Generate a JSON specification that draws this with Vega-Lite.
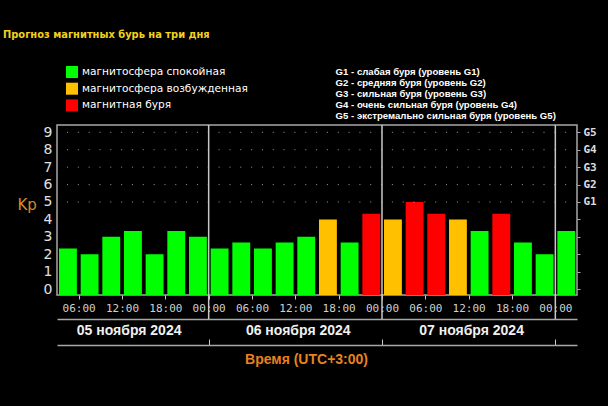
{
  "$schema": "https://vega.github.io/schema/vega-lite/v6.json",
  "width": 520,
  "height": 170,
  "autosize": {"type": "none"},
  "padding": {"left": 57, "top": 125, "right": 31, "bottom": 111},
  "background": "#000000",
  "config": {
    "view": {"stroke": "#a8a8a8", "strokeWidth": 1.5},
    "axis": {"grid": false}
  },
  "title": {
    "text": "Прогноз магнитных бурь на три дня",
    "anchor": "start",
    "frame": "group",
    "dx": -54,
    "dy": -20,
    "font": "DejaVu Sans Condensed",
    "fontSize": 11,
    "fontWeight": "bold",
    "color": "#f2d21b",
    "baseline": "middle",
    "offset": 0
  },
  "resolve": {"axis": {"x": "independent", "y": "independent"}},
  "layer": [
    {
      "data": {
        "values": [
          {"start": "2024-11-05T03:00:00Z", "end": "2024-11-05T06:00:00Z", "kp": 2.33, "state": "магнитосфера спокойная"},
          {"start": "2024-11-05T06:00:00Z", "end": "2024-11-05T09:00:00Z", "kp": 2.0, "state": "магнитосфера спокойная"},
          {"start": "2024-11-05T09:00:00Z", "end": "2024-11-05T12:00:00Z", "kp": 3.0, "state": "магнитосфера спокойная"},
          {"start": "2024-11-05T12:00:00Z", "end": "2024-11-05T15:00:00Z", "kp": 3.33, "state": "магнитосфера спокойная"},
          {"start": "2024-11-05T15:00:00Z", "end": "2024-11-05T18:00:00Z", "kp": 2.0, "state": "магнитосфера спокойная"},
          {"start": "2024-11-05T18:00:00Z", "end": "2024-11-05T21:00:00Z", "kp": 3.33, "state": "магнитосфера спокойная"},
          {"start": "2024-11-05T21:00:00Z", "end": "2024-11-06T00:00:00Z", "kp": 3.0, "state": "магнитосфера спокойная"},
          {"start": "2024-11-06T00:00:00Z", "end": "2024-11-06T03:00:00Z", "kp": 2.33, "state": "магнитосфера спокойная"},
          {"start": "2024-11-06T03:00:00Z", "end": "2024-11-06T06:00:00Z", "kp": 2.67, "state": "магнитосфера спокойная"},
          {"start": "2024-11-06T06:00:00Z", "end": "2024-11-06T09:00:00Z", "kp": 2.33, "state": "магнитосфера спокойная"},
          {"start": "2024-11-06T09:00:00Z", "end": "2024-11-06T12:00:00Z", "kp": 2.67, "state": "магнитосфера спокойная"},
          {"start": "2024-11-06T12:00:00Z", "end": "2024-11-06T15:00:00Z", "kp": 3.0, "state": "магнитосфера спокойная"},
          {"start": "2024-11-06T15:00:00Z", "end": "2024-11-06T18:00:00Z", "kp": 4.0, "state": "магнитосфера возбужденная"},
          {"start": "2024-11-06T18:00:00Z", "end": "2024-11-06T21:00:00Z", "kp": 2.67, "state": "магнитосфера спокойная"},
          {"start": "2024-11-06T21:00:00Z", "end": "2024-11-07T00:00:00Z", "kp": 4.33, "state": "магнитная буря"},
          {"start": "2024-11-07T00:00:00Z", "end": "2024-11-07T03:00:00Z", "kp": 4.0, "state": "магнитосфера возбужденная"},
          {"start": "2024-11-07T03:00:00Z", "end": "2024-11-07T06:00:00Z", "kp": 5.0, "state": "магнитная буря"},
          {"start": "2024-11-07T06:00:00Z", "end": "2024-11-07T09:00:00Z", "kp": 4.33, "state": "магнитная буря"},
          {"start": "2024-11-07T09:00:00Z", "end": "2024-11-07T12:00:00Z", "kp": 4.0, "state": "магнитосфера возбужденная"},
          {"start": "2024-11-07T12:00:00Z", "end": "2024-11-07T15:00:00Z", "kp": 3.33, "state": "магнитосфера спокойная"},
          {"start": "2024-11-07T15:00:00Z", "end": "2024-11-07T18:00:00Z", "kp": 4.33, "state": "магнитная буря"},
          {"start": "2024-11-07T18:00:00Z", "end": "2024-11-07T21:00:00Z", "kp": 2.67, "state": "магнитосфера спокойная"},
          {"start": "2024-11-07T21:00:00Z", "end": "2024-11-08T00:00:00Z", "kp": 2.0, "state": "магнитосфера спокойная"},
          {"start": "2024-11-08T00:00:00Z", "end": "2024-11-08T03:00:00Z", "kp": 3.33, "state": "магнитосфера спокойная"}
        ]
      },
      "mark": {"type": "bar", "xOffset": 2, "x2Offset": -1.8},
      "encoding": {
        "x": {
          "field": "start", "type": "temporal",
          "scale": {"type": "utc", "domain": [{"year": 2024, "month": 11, "date": 5, "hours": 3, "utc": true}, {"year": 2024, "month": 11, "date": 8, "hours": 3, "utc": true}]},
          "axis": {
            "orient": "bottom", "offset": 0, "title": null, "domain": false, "labelFlush": false, "labelOverlap": false,
            "values": [
              {"year": 2024, "month": 11, "date": 5, "hours": 6, "utc": true},
              {"year": 2024, "month": 11, "date": 5, "hours": 12, "utc": true},
              {"year": 2024, "month": 11, "date": 5, "hours": 18, "utc": true},
              {"year": 2024, "month": 11, "date": 6, "hours": 0, "utc": true},
              {"year": 2024, "month": 11, "date": 6, "hours": 6, "utc": true},
              {"year": 2024, "month": 11, "date": 6, "hours": 12, "utc": true},
              {"year": 2024, "month": 11, "date": 6, "hours": 18, "utc": true},
              {"year": 2024, "month": 11, "date": 7, "hours": 0, "utc": true},
              {"year": 2024, "month": 11, "date": 7, "hours": 6, "utc": true},
              {"year": 2024, "month": 11, "date": 7, "hours": 12, "utc": true},
              {"year": 2024, "month": 11, "date": 7, "hours": 18, "utc": true},
              {"year": 2024, "month": 11, "date": 8, "hours": 0, "utc": true}
            ],
            "labelExpr": "utcFormat(datum.value, '%H:%M')",
            "labelFont": "DejaVu Sans Mono", "labelFontSize": 11, "labelColor": "#d0d0d0",
            "tickColor": "#c8c8c8", "tickSize": 4, "tickWidth": 1, "labelPadding": 3
          }
        },
        "x2": {"field": "end"},
        "y": {
          "field": "kp", "type": "quantitative",
          "scale": {"domain": [-0.34, 9.42], "nice": false, "zero": false},
          "axis": {
            "orient": "left", "values": [0, 1, 2, 3, 4, 5, 6, 7, 8, 9], "domain": false, "ticks": false,
            "labelFont": "DejaVu Sans", "labelFontSize": 14, "labelColor": "#e0e0e0", "labelPadding": 5,
            "title": "Kp", "titleAngle": 0, "titleX": -40, "titleY": 79, "titleAlign": "left", "titleBaseline": "middle",
            "titleColor": "#d98a2c", "titleFont": "DejaVu Sans", "titleFontSize": 15, "titleFontWeight": "normal"
          }
        },
        "y2": {"datum": -0.34},
        "color": {
          "field": "state", "type": "nominal",
          "scale": {"domain": ["магнитосфера спокойная", "магнитосфера возбужденная", "магнитная буря"], "range": ["#00ff00", "#ffc000", "#ff0000"]},
          "legend": {
            "orient": "none", "legendX": 9, "legendY": -59, "direction": "vertical", "title": null,
            "symbolType": "square", "symbolSize": 144, "symbolStrokeWidth": 0, "labelLimit": 0,
            "labelFont": "DejaVu Sans", "labelFontSize": 10.6, "labelColor": "#ffffff", "labelOffset": 4, "rowPadding": 4.7
          }
        }
      }
    },
    {
      "data": {
        "values": [
          {"level": 5, "desc": "G1 - слабая буря (уровень G1)"},
          {"level": 6, "desc": "G2 - средняя буря (уровень G2)"},
          {"level": 7, "desc": "G3 - сильная буря (уровень G3)"},
          {"level": 8, "desc": "G4 - очень сильная буря (уровень G4)"},
          {"level": 9, "desc": "G5 - экстремально сильная буря (уровень G5)"}
        ]
      },
      "mark": {"type": "rule", "color": "#9a9a9a", "strokeWidth": 1},
      "encoding": {
        "y": {
          "field": "level", "type": "quantitative",
          "scale": {"domain": [-0.34, 9.42], "nice": false, "zero": false},
          "axis": {
            "orient": "right", "values": [0, 1, 2, 3, 4, 5, 6, 7, 8, 9], "domain": false, "title": null,
            "labelExpr": "datum.value >= 5 ? 'G' + (datum.value - 4) : ''",
            "tickSize": 3, "tickColor": "#aaaaaa",
            "labelFont": "DejaVu Sans Mono", "labelFontSize": 11, "labelFontWeight": "bold", "labelColor": "#dddddd", "labelPadding": 3
          }
        },
        "strokeDash": {
          "field": "desc", "type": "nominal",
          "scale": {"range": [[1, 9.83], [1, 9.83], [1, 9.83], [1, 9.83], [1, 9.83]]},
          "legend": {
            "orient": "none", "legendX": 269, "legendY": -58, "direction": "vertical", "title": null,
            "symbolSize": 0, "symbolOpacity": 0, "symbolStrokeWidth": 0, "labelOffset": 0, "rowPadding": 0, "labelLimit": 0,
            "labelFont": "Liberation Sans", "labelFontWeight": "bold", "labelFontSize": 9.6, "labelColor": "#ffffff"
          }
        }
      }
    },
    {
      "data": {
        "values": [
          {"mid": "2024-11-05T12:55:00Z", "label": "05 ноября 2024"},
          {"mid": "2024-11-06T12:20:00Z", "label": "06 ноября 2024"},
          {"mid": "2024-11-07T12:20:00Z", "label": "07 ноября 2024"}
        ]
      },
      "mark": {"type": "point", "opacity": 0},
      "encoding": {
        "x": {
          "field": "mid", "type": "temporal",
          "scale": {"type": "utc", "domain": [{"year": 2024, "month": 11, "date": 5, "hours": 3, "utc": true}, {"year": 2024, "month": 11, "date": 8, "hours": 3, "utc": true}]},
          "axis": {
            "orient": "bottom", "offset": 24, "domainColor": "#a8a8a8", "domainWidth": 1.5, "ticks": false,
            "labelFlush": false,
            "values": [
              {"year": 2024, "month": 11, "date": 5, "hours": 12, "minutes": 55, "utc": true},
              {"year": 2024, "month": 11, "date": 6, "hours": 12, "minutes": 20, "utc": true},
              {"year": 2024, "month": 11, "date": 7, "hours": 12, "minutes": 20, "utc": true}
            ],
            "labelExpr": "utcFormat(datum.value, '%d') + ' ноября ' + utcFormat(datum.value, '%Y')",
            "labelFont": "Liberation Sans", "labelFontWeight": "bold", "labelFontSize": 14, "labelColor": "#f0f0f0", "labelPadding": 4,
            "title": "Время (UTC+3:00)", "titleFont": "Liberation Sans", "titleFontWeight": "bold", "titleFontSize": 14,
            "titleColor": "#e8821e", "titleX": 249, "titleY": 40, "titleAlign": "center", "titleBaseline": "middle"
          }
        }
      }
    },
    {
      "data": {
        "values": [
          {"t": "2024-11-06T00:00:00Z"},
          {"t": "2024-11-07T00:00:00Z"},
          {"t": "2024-11-08T00:00:00Z"}
        ]
      },
      "mark": {"type": "rule", "color": "#c8c8c8", "strokeWidth": 1.5},
      "encoding": {
        "x": {
          "field": "t", "type": "temporal",
          "scale": {"type": "utc", "domain": [{"year": 2024, "month": 11, "date": 5, "hours": 3, "utc": true}, {"year": 2024, "month": 11, "date": 8, "hours": 3, "utc": true}]},
          "axis": {
            "orient": "bottom", "offset": 50, "domainColor": "#a8a8a8", "domainWidth": 1.5, "labels": false, "title": null,
            "values": [
              {"year": 2024, "month": 11, "date": 6, "hours": 0, "utc": true},
              {"year": 2024, "month": 11, "date": 7, "hours": 0, "utc": true},
              {"year": 2024, "month": 11, "date": 8, "hours": 0, "utc": true}
            ],
            "tickSize": -6, "tickColor": "#c8c8c8", "tickWidth": 1
          }
        },
        "y": {"datum": 9.42, "axis": null, "scale": {"domain": [-0.34, 9.42], "nice": false, "zero": false}},
        "y2": {"datum": -1.72}
      }
    }
  ]
}
